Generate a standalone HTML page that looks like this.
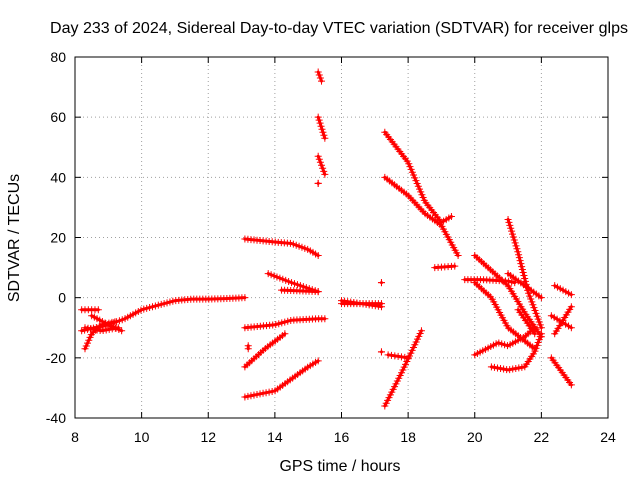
<!DOCTYPE html>
<html><head><meta charset="utf-8"><style>
html,body{margin:0;padding:0;background:#fff}
svg{display:block;font-family:"Liberation Sans",sans-serif}
</style></head><body>
<svg id="chart" width="640" height="480" viewBox="0 0 640 480">
<rect width="640" height="480" fill="#fff"/>
<text x="339" y="33" font-size="16" text-anchor="middle" textLength="578" lengthAdjust="spacingAndGlyphs">Day 233 of 2024, Sidereal Day-to-day VTEC variation (SDTVAR) for receiver glps</text>
<g id="grid"></g>
<g id="axes"></g>
<g id="marks"></g>
<text x="340" y="471" font-size="16" text-anchor="middle" textLength="121" lengthAdjust="spacingAndGlyphs">GPS time / hours</text>
<text x="19" y="238" font-size="16" text-anchor="middle" transform="rotate(-90 19 238)">SDTVAR / TECUs</text>
</svg>
<script>
const xTicks=[8,10,12,14,16,18,20,22,24];
const yTicks=[-40,-20,0,20,40,60,80];
const tracks=[
[[8.2,-11],[8.6,-10],[9,-9],[9.5,-7],[10,-4],[10.5,-2.5],[11,-1],[11.5,-0.5],[12,-0.5],[12.5,-0.3],[13.1,0]],
[[8.3,-17],[8.5,-12],[8.8,-9],[9.2,-8]],
[[8.2,-4],[8.7,-4]],
[[8.5,-6],[9,-9],[9.4,-11]],
[[8.3,-10],[8.8,-11],[9.3,-10]],
[[13.1,19.5],[14,18.5],[14.5,18],[15,16],[15.3,14]],
[[13.1,-10],[14,-9],[14.5,-7.5],[15.3,-7],[15.5,-7]],
[[13.1,-23],[13.7,-17],[14.3,-12]],
[[13.2,-16],[13.2,-17]],
[[13.1,-33],[14,-31],[14.5,-27],[15,-23],[15.3,-21]],
[[13.8,8],[14.5,5],[15.3,2]],
[[14.2,2.5],[15.3,2]],
[[15.3,75],[15.4,72]],
[[15.3,60],[15.5,53]],
[[15.3,47],[15.5,41]],
[[15.3,38],[15.3,38]],
[[16,-2],[16.5,-2],[17.2,-2]],
[[16,-1],[16.6,-2],[17.2,-3]],
[[17.2,5],[17.2,5]],
[[17.2,-18],[17.2,-18]],
[[17.3,55],[18,45],[18.5,32],[19,25],[19.3,27]],
[[17.3,40],[18,34],[18.5,28],[19,24],[19.5,14]],
[[17.3,-36],[17.8,-25],[18.4,-11]],
[[17.4,-19],[18,-20]],
[[18.8,10],[19.4,10.5]],
[[19.7,6],[20.2,6],[21,5.5],[21.2,5]],
[[20,14],[21,4],[21.5,-5],[22,-13]],
[[20,-19],[20.7,-15],[21,-16],[21.5,-13],[21.8,-10]],
[[20.5,-23],[21,-24],[21.5,-23],[21.8,-18],[22,-12]],
[[20,5],[20.5,0],[21,-10],[21.8,-17]],
[[21,26],[21.3,15],[21.6,2],[22,-10]],
[[21,8],[21.5,4],[22,0]],
[[21.3,-4],[21.8,-12]],
[[22.4,4],[22.9,1]],
[[22.3,-6],[22.9,-10]],
[[22.3,-20],[22.9,-29]],
[[22.4,-12],[22.9,-3]]
];
const X0=75,X1=608,Y0=418,Y1=57;
const xs=h=>X0+(h-8)/16*(X1-X0);
const ys=v=>Y0-(v+40)/120*(Y0-Y1);
const NS="http://www.w3.org/2000/svg";
function mk(t,a,p){const e=document.createElementNS(NS,t);for(const k in a)e.setAttribute(k,a[k]);p.appendChild(e);return e;}
const grid=document.getElementById('grid'),axes=document.getElementById('axes'),marks=document.getElementById('marks');
xTicks.forEach(t=>{const x=xs(t);
if(t>8&&t<24){const g=mk('line',{x1:x,x2:x,y1:Y1,y2:Y0,stroke:'#a0a0a0','stroke-dasharray':'1,3'},grid);}
mk('line',{x1:x,x2:x,y1:Y0,y2:Y0-6,stroke:'#000'},axes);mk('line',{x1:x,x2:x,y1:Y1,y2:Y1+6,stroke:'#000'},axes);
const l=mk('text',{x:x,y:Y0+24,'font-size':14,'text-anchor':'middle'},axes);l.textContent=t;
});
yTicks.forEach(t=>{const y=ys(t);
if(t>-40&&t<80){const g=mk('line',{x1:X0,x2:X1,y1:y,y2:y,stroke:'#a0a0a0','stroke-dasharray':'1,3'},grid);}
mk('line',{x1:X0,x2:X0+6,y1:y,y2:y,stroke:'#000'},axes);mk('line',{x1:X1,x2:X1-6,y1:y,y2:y,stroke:'#000'},axes);
const l=mk('text',{x:X0-9,y:y+5,'font-size':14,'text-anchor':'end'},axes);l.textContent=t;
});
const fr=mk('rect',{x:X0,y:Y1,width:X1-X0,height:Y0-Y1,fill:'none',stroke:'#000'},axes);

tracks.forEach(tr=>{
const g=mk('g',{},marks);


const pts=tr.map(p=>xs(p[0])+','+ys(p[1])).join(' ');
const pl=mk('polyline',{points:pts,fill:'none',stroke:'#f00','stroke-width':3,'stroke-linejoin':'round','stroke-linecap':'round'},g);
const len=pl.getTotalLength();
const n=Math.max(1,Math.floor(len/3));
for(let i=0;i<=n;i++){const q=pl.getPointAtLength(len*i/n);
mk('path',{d:`M${q.x-3.5},${q.y}h7M${q.x},${q.y-3.5}v7`,stroke:'#f00','stroke-width':1},g);}
});
</script>
</body></html>
